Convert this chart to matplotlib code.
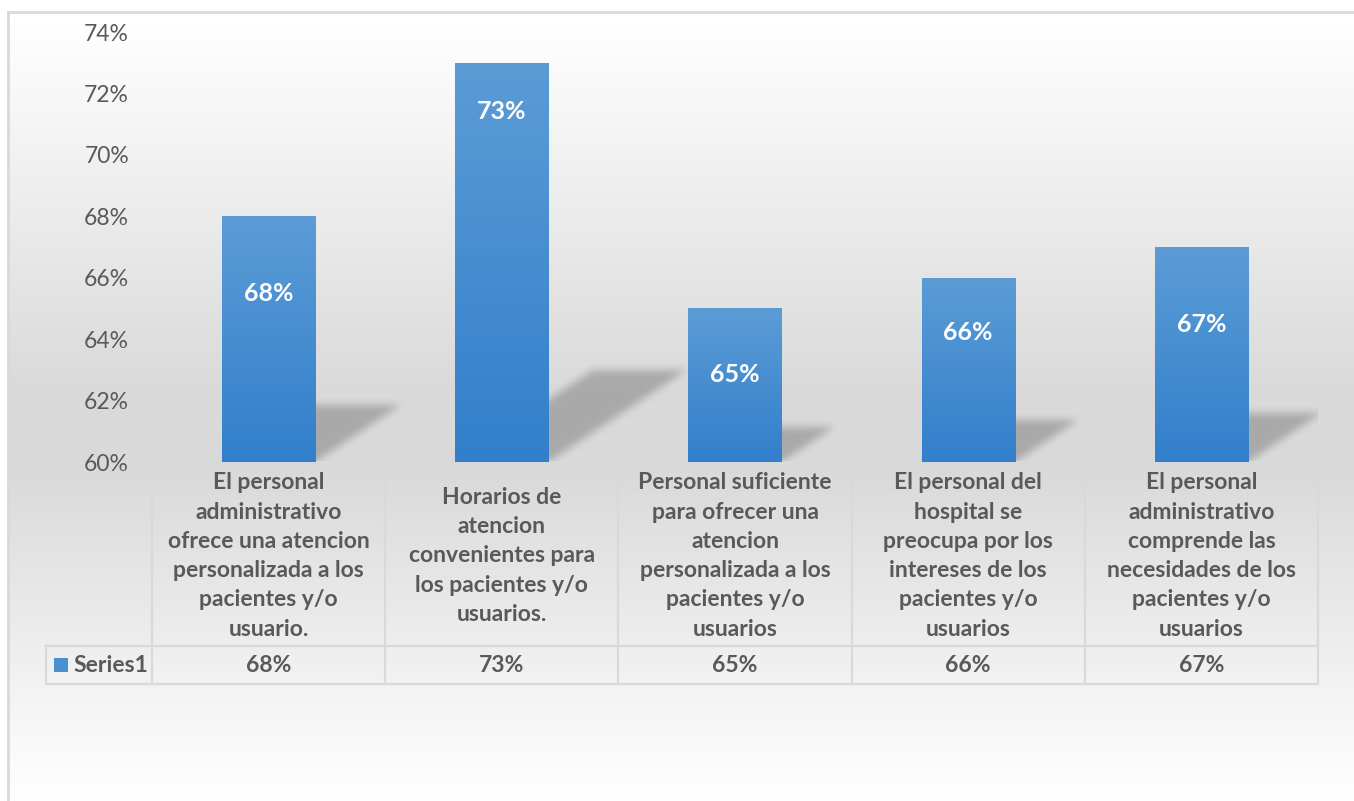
import numpy as np
import matplotlib
matplotlib.use("Agg")
import matplotlib.pyplot as plt
from matplotlib.path import Path
from matplotlib.lines import Line2D
from matplotlib.patches import Rectangle

# ---------------- data ----------------
categories = [
    "El personal\nadministrativo\nofrece una atencion\npersonalizada a los\npacientes y/o\nusuario.",
    "Horarios de\natencion\nconvenientes para\nlos pacientes y/o\nusuarios.",
    "Personal suficiente\npara ofrecer una\natencion\npersonalizada a los\npacientes y/o\nusuarios",
    "El personal del\nhospital se\npreocupa por los\nintereses de los\npacientes y/o\nusuarios",
    "El personal\nadministrativo\ncomprende las\nnecesidades de los\npacientes y/o\nusuarios",
]
values = [0.68, 0.73, 0.65, 0.66, 0.67]
series_name = "Series1"
yticks = [0.60, 0.62, 0.64, 0.66, 0.68, 0.70, 0.72, 0.74]
label_offsets_px = [77, 49, 66, 55, 77]   # label placement inside bars (style)

# ---------------- figure ----------------
W, H, DPI = 1354, 801, 100
plt.rcParams['font.family'] = ['Lato', 'DejaVu Sans']
fig = plt.figure(figsize=(W / DPI, H / DPI), dpi=DPI)
fig.patch.set_facecolor('white')

TXT = '#595959'
GRID = '#d9d9d9'

def fx(x):
    return x / W

def fy(y):
    return 1 - y / H

# background axes (pixel coords, origin bottom-left)
bg = fig.add_axes([0, 0, 1, 1], zorder=0)
bg.set_xlim(0, W)
bg.set_ylim(0, H)
bg.axis('off')

# vertical gradient inside chart border
yy = np.arange(H)  # top-down pixel rows
gray = np.interp(yy, [12, 380, 460, 795], [255, 218, 217, 255]) / 255.0
grad = np.repeat(gray[:, None], 2, axis=1)
rgb = np.dstack([grad, grad, grad])
bg.imshow(rgb, extent=[8, W, 0, H - 12], origin='upper', aspect='auto',
          interpolation='bilinear', zorder=0)

# chart border
bg.add_line(Line2D([8, W], [H - 12, H - 12], color=GRID, lw=2, zorder=1))
bg.add_line(Line2D([8, 8], [0, H - 12], color=GRID, lw=2, zorder=1))

# ---------------- main axes ----------------
axL, axR, axT, axB = 152, 1318, 32, 462
ax = fig.add_axes([fx(axL), fy(axB), (axR - axL) / W, (axB - axT) / H], zorder=2)
ax.patch.set_alpha(0)
x = np.arange(len(values))
bw = 0.4
bars = ax.bar(x, values, width=bw, color='#4a8fd2', zorder=3)
ax.set_xlim(-0.5, len(values) - 0.5)
ax.set_ylim(yticks[0], yticks[-1])
ax.set_yticks(yticks)
ax.set_yticklabels([f"{v * 100:.0f}%" for v in yticks], fontsize=16.5, color=TXT)
ax.tick_params(axis='y', length=0, pad=16.5)
ax.set_xticks([])
for s in ax.spines.values():
    s.set_visible(False)

# bar gradients
top_c = np.array([91, 156, 214]) / 255.0
bot_c = np.array([50, 127, 203]) / 255.0
t = np.linspace(0, 1, 64)[:, None]
gcol = top_c[None, :] * (1 - t) + bot_c[None, :] * t
gimg = np.repeat(gcol[:, None, :], 2, axis=1)
for b, xi, v in zip(bars, x, values):
    im = ax.imshow(gimg, extent=[xi - bw / 2, xi + bw / 2, yticks[0], v],
                   origin='upper', aspect='auto', interpolation='bilinear', zorder=4)
    im.set_clip_path(b)
ax.set_xlim(-0.5, len(values) - 0.5)
ax.set_ylim(yticks[0], yticks[-1])

# data labels inside bars
for xi, v, off in zip(x, values, label_offsets_px):
    ax.annotate(f"{v * 100:.0f}%", (xi, v), xytext=(0, -off * 72 / DPI),
                textcoords='offset points', ha='center', va='center',
                color='white', fontsize=18, fontweight='bold', zorder=6)

# ---------------- shadows ----------------
fig.canvas.draw()
trans = ax.transData
mask = np.zeros((H, W))
px, py = np.meshgrid(np.arange(W) + 0.5, np.arange(H) + 0.5)
pts = np.column_stack([px.ravel(), py.ravel()])
for xi, v in zip(x, values):
    (L, base) = trans.transform((xi - bw / 2, yticks[0]))
    (R, top) = trans.transform((xi + bw / 2, v))
    hp = top - base
    sh = 0.23 * hp
    shift = 0.345 * hp
    poly = Path([(L, base), (R, base), (R + shift, base + sh), (L + shift, base + sh), (L, base)])
    inside = poly.contains_points(pts).reshape(H, W)
    mask = np.maximum(mask, inside.astype(float))

def box_blur(a, r):
    k = 2 * r + 1
    p = np.pad(a, ((0, 0), (r + 1, r)), mode='edge')
    c = np.cumsum(p, axis=1)
    a = (c[:, k:] - c[:, :-k]) / k
    p = np.pad(a, ((r + 1, r), (0, 0)), mode='edge')
    c = np.cumsum(p, axis=0)
    return (c[k:, :] - c[:-k, :]) / k

mask = box_blur(box_blur(mask, 4), 4)
(pl, pb) = trans.transform((-0.5, yticks[0]))
(pr, pt) = trans.transform((len(values) - 0.5, yticks[-1]))
clip = (px >= pl) & (px <= pr) & (py >= pb)
mask = mask * clip
shadow = np.zeros((H, W, 4))
shadow[..., 3] = mask * 0.22
bg.imshow(shadow, extent=[0, W, 0, H], origin='lower', aspect='auto',
          interpolation='nearest', zorder=2)
bg.set_xlim(0, W)
bg.set_ylim(0, H)

# ---------------- data table ----------------
tL = 46
rowTop, rowMid, rowBot = 462, 646, 684
bounds = [trans.transform((xi - 0.5, 0))[0] for xi in list(x) + [len(values)]]
tbl_lw = 1.6
# horizontal lines
bg.add_line(Line2D([bounds[0], bounds[-1]], [H - rowTop, H - rowTop], color=GRID, lw=tbl_lw, zorder=3))
bg.add_line(Line2D([tL, bounds[-1]], [H - rowMid, H - rowMid], color=GRID, lw=tbl_lw, zorder=3))
bg.add_line(Line2D([tL, bounds[-1]], [H - rowBot, H - rowBot], color=GRID, lw=tbl_lw, zorder=3))
# vertical lines
for bx in bounds:
    bg.add_line(Line2D([bx, bx], [H - rowTop, H - rowBot], color=GRID, lw=tbl_lw, zorder=3))
bg.add_line(Line2D([tL, tL], [H - rowMid, H - rowBot], color=GRID, lw=tbl_lw, zorder=3))

# category labels and values
for i, (cat, v) in enumerate(zip(categories, values)):
    cx = (bounds[i] + bounds[i + 1]) / 2
    bg.text(cx, H - (rowTop + rowMid) / 2 - 2, cat, ha='center', va='center',
            fontsize=16.5, fontweight='bold', color=TXT, linespacing=1.49,
            multialignment='center', zorder=4)
    bg.text(cx, H - (rowMid + rowBot) / 2, f"{v * 100:.0f}%", ha='center', va='center',
            fontsize=16.5, fontweight='bold', color=TXT, zorder=4)

# legend key cell
ky = H - (rowMid + rowBot) / 2
bg.add_patch(Rectangle((54, ky - 7), 14, 14, facecolor='#4a8fd2', edgecolor='none', zorder=4))
bg.text(73, ky, series_name, ha='left', va='center', fontsize=16.5,
        fontweight='bold', color=TXT, zorder=4)

fig.savefig('out.png', dpi=DPI)
